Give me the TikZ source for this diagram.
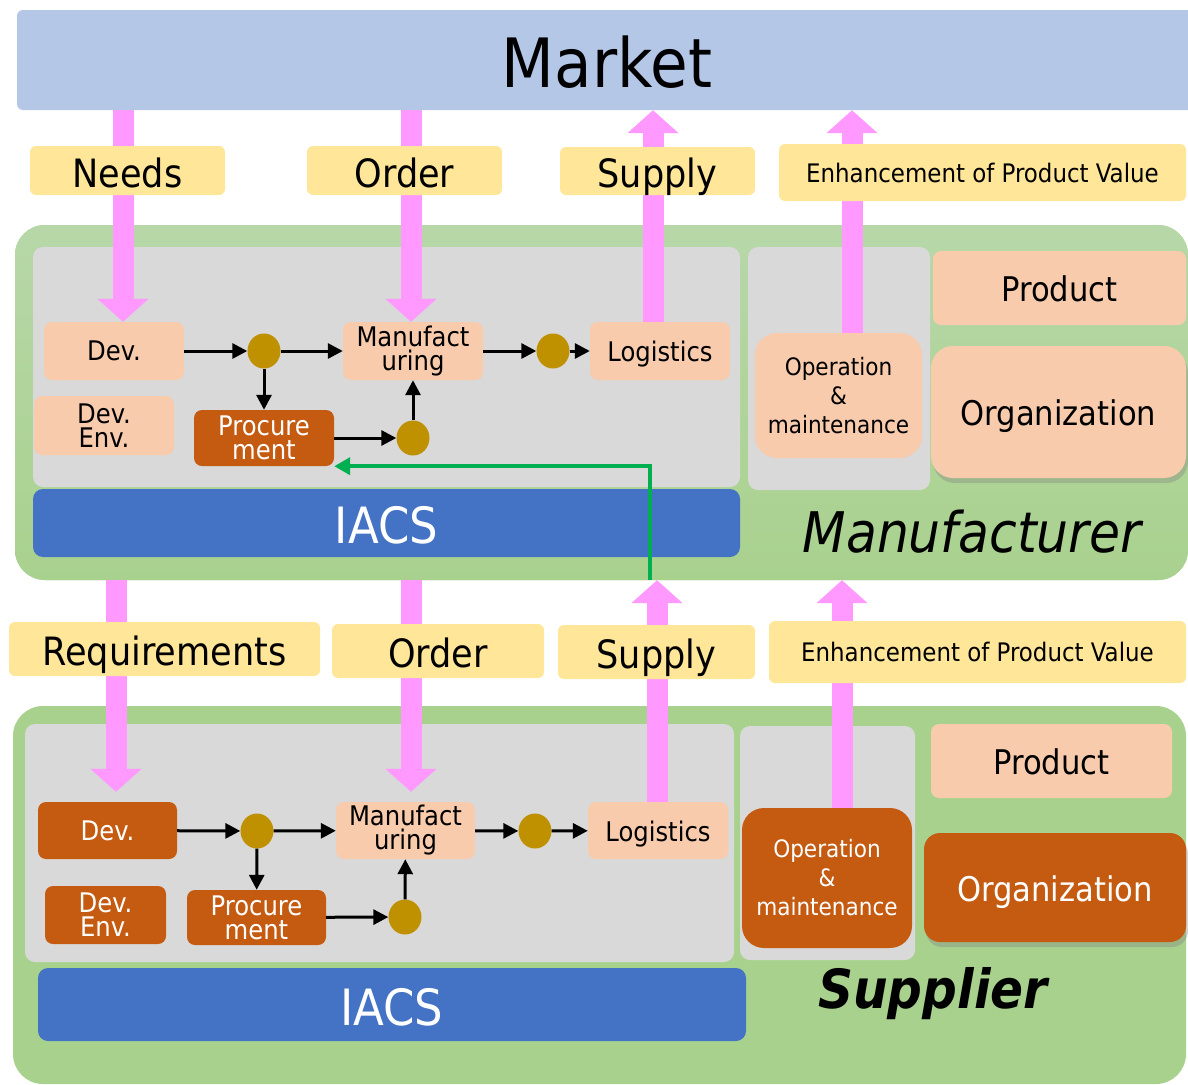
\documentclass[tikz,border=0pt]{standalone}
\usepackage{fontspec}
\setmainfont{DejaVu Sans Condensed}
\usepackage{xcolor}
\usepackage{tikz}
\usetikzlibrary{arrows.meta,shapes.geometric,shadows}

\definecolor{marketblue}{HTML}{B4C7E7}
\definecolor{tagyellow}{HTML}{FFE699}
\definecolor{flowpink}{HTML}{FF99FF}
\definecolor{groupgreen}{HTML}{A9D18E}
\definecolor{groupgreenlt}{HTML}{B7D7A8}
\definecolor{areagray}{HTML}{D9D9D9}
\definecolor{peach}{HTML}{F8CBAD}
\definecolor{rust}{HTML}{C55A11}
\definecolor{iacsblue}{HTML}{4472C4}
\definecolor{gold}{HTML}{BF9000}
\definecolor{linkgreen}{HTML}{00B050}

\pgfdeclarelayer{back}
\pgfdeclarelayer{flows}
\pgfsetlayers{back,flows,main}

\begin{document}
\begin{tikzpicture}[x=1pt, y=-1pt,
    sized/.style 2 args={minimum width=#1pt, minimum height=#2pt},
    plain/.style={inner sep=0pt, align=center},
    oneline/.style={text height=#1pt, text depth=0pt},
    greenbox/.style={plain, rounded corners=30pt, fill=groupgreen},
    grayarea/.style={plain, rounded corners=10pt, fill=areagray},
    peachbox/.style={plain, rounded corners=8pt, fill=peach,
        font=\fontsize{27}{24}\selectfont},
    rustbox/.style={peachbox, fill=rust, text=white},
    tagbox/.style={plain, oneline=33.5, rounded corners=6pt, fill=tagyellow,
        font=\fontsize{39}{40}\selectfont},
    valuetag/.style={tagbox, oneline=19.5, font=\fontsize{25.5}{26}\selectfont},
    bigbox/.style={oneline=27, font=\fontsize{34}{34}\selectfont},
    junction/.style={ellipse, fill=gold, inner sep=0pt, sized={33}{35}},
    iacsbar/.style={plain, oneline=41, rounded corners=10pt, fill=iacsblue,
        text=white, font=\fontsize{50}{50}\selectfont},
    flow/.style={line width=3pt, -{Triangle[width=15pt,length=15pt]}},
    bigflow/.style={line width=21pt, flowpink,
        -{Triangle[width=50pt,length=23pt]}},
    feedback/.style={line width=4pt, linkgreen,
        -{Triangle[width=17pt,length=16pt]}}]

    \useasboundingbox (0,0) rectangle (1188,1084);

    % Market
    \node[plain, oneline=55, rounded corners=6pt, fill=marketblue,
        sized={1180}{100}, font=\fontsize{68}{68}\selectfont]
        (market) at (607,60) {Market};

    % groups and work areas
    \begin{pgfonlayer}{back}
    \node[greenbox, sized={1173}{355}, top color=groupgreenlt,
        bottom color=groupgreen] (mfg) at (601.5,402.5) {};
    \node[greenbox, sized={1173}{378}] (sup) at (599.5,895) {};
    \node[grayarea, sized={707}{240}] (mfgA) at (386.5,367) {};
    \node[grayarea, sized={182}{243}] (mfgB) at (839,368.5) {};
    \node[grayarea, sized={709}{238}] (supA) at (379.5,843) {};
    \node[grayarea, sized={175}{234}] (supB) at (827.5,843) {};
    \end{pgfonlayer}

    % Manufacturer boxes
    \node[peachbox, oneline=19, sized={140}{58}] (mDev) at (114,351) {Dev.};
    \node[peachbox, sized={140}{59}] (mEnv) at (104,425.5) {Dev.\\Env.};
    \node[rustbox, sized={140}{56}] (mProc) at (264,438) {Procure\\ment};
    \node[peachbox, sized={140}{58}] (mMan) at (413,351) {Manufact\\uring};
    \node[peachbox, oneline=21, sized={140}{58}] (mLog) at (660,351) {Logistics};
    \node[peachbox, rounded corners=22pt, sized={167}{125},
        font=\fontsize{24}{29}\selectfont] (mOps) at (838.5,395.5)
        {Operation\\\&\\maintenance};
    \node[peachbox, bigbox, sized={253}{74}] (mProd) at (1059.5,288) {Product};
    \node[peachbox, bigbox, rounded corners=22pt, sized={255}{132},
        drop shadow={shadow xshift=2pt, shadow yshift=-5pt, opacity=0.35}]
        (mOrg) at (1058.5,412) {Organization};

    % Supplier boxes
    \node[rustbox, oneline=19, sized={139}{57}] (sDev) at (107.5,830.5) {Dev.};
    \node[rustbox, sized={121}{58}] (sEnv) at (105.5,915) {Dev.\\Env.};
    \node[rustbox, sized={139}{55}] (sProc) at (256.5,917.5) {Procure\\ment};
    \node[peachbox, sized={139}{57}] (sMan) at (405.5,830.5) {Manufact\\uring};
    \node[peachbox, oneline=21, sized={140}{57}] (sLog) at (658,830.5) {Logistics};
    \node[rustbox, rounded corners=22pt, sized={170}{140},
        font=\fontsize{24}{29}\selectfont] (sOps) at (827,878)
        {Operation\\\&\\maintenance};
    \node[peachbox, bigbox, sized={241}{74}] (sProd) at (1051.5,761) {Product};
    \node[rustbox, bigbox, rounded corners=16pt, sized={262}{109},
        drop shadow={shadow xshift=2pt, shadow yshift=-5pt, opacity=0.35}]
        (sOrg) at (1055,887.5) {Organization};

    % pink flows
    \begin{pgfonlayer}{flows}
    \draw[bigflow] (123,0 |- market.south) -- (123,0 |- mDev.north);
    \draw[bigflow] (411,0 |- market.south) -- (411,0 |- mMan.north);
    \draw[bigflow] (653,0 |- mLog.north) -- (653,0 |- market.south);
    \draw[bigflow] (852,0 |- mOps.north) -- (852,0 |- market.south);
    \draw[bigflow, shorten >=10pt] (116,0 |- mfg.south) -- (116,0 |- sDev.north);
    \draw[bigflow, shorten >=10pt] (411,0 |- mfg.south) -- (411,0 |- sMan.north);
    \draw[bigflow] (657,0 |- sLog.north) -- (657,0 |- mfg.south);
    \draw[bigflow] (842,0 |- sOps.north) -- (842,0 |- mfg.south);
    \end{pgfonlayer}

    % flow labels
    \node[tagbox, sized={195}{49}] (tNeeds) at (127.5,170.5) {Needs};
    \node[tagbox, sized={195}{49}] (tOrder) at (404.5,170.5) {Order};
    \node[tagbox, sized={195}{48}] (tSupply) at (657.5,171) {Supply};
    \node[valuetag, sized={407}{57}] (tValue) at (982.5,172.5)
        {Enhancement of Product Value};
    \node[tagbox, sized={311}{54}] (tReq) at (164.5,649) {Requirements};
    \node[tagbox, sized={212}{54}] (tOrderS) at (438,651) {Order};
    \node[tagbox, sized={197}{54}] (tSupplyS) at (656.5,652) {Supply};
    \node[valuetag, sized={417}{62}] (tValueS) at (977.5,652)
        {Enhancement of Product Value};

    % junctions
    \node[junction] (mJ1) at (264,351) {};
    \node[junction] (mJ2) at (413,438) {};
    \node[junction] (mJ3) at (553,351) {};
    \node[junction] (sJ1) at (257,831) {};
    \node[junction] (sJ2) at (405,917) {};
    \node[junction] (sJ3) at (535,831) {};

    % process arrows
    \draw[flow] (mDev) -- (mJ1);
    \draw[flow] (mJ1) -- (mMan);
    \draw[flow] (mJ1) -- (mProc);
    \draw[flow] (mProc) -- (mJ2);
    \draw[flow] (mJ2) -- (mMan);
    \draw[flow] (mMan) -- (mJ3);
    \draw[flow] (mJ3) -- (mLog);
    \draw[flow] (sDev) -- (sJ1);
    \draw[flow] (sJ1) -- (sMan);
    \draw[flow] (sJ1) -- (sProc);
    \draw[flow] (sProc) -- (sJ2);
    \draw[flow] (sJ2) -- (sMan);
    \draw[flow] (sMan) -- (sJ3);
    \draw[flow] (sJ3) -- (sLog);

    % IACS and names
    \node[iacsbar, sized={707}{68}] (mIACS) at (386.5,523) {IACS};
    \node[iacsbar, sized={708}{73}] (sIACS) at (392,1004.5) {IACS};
    \node[font=\fontsize{56}{56}\selectfont\itshape] (mName) at (972,532)
        {Manufacturer};
    \node[font=\fontsize{54}{54}\selectfont\bfseries\itshape] (sName)
        at (933,994) {Supplier};

    % supply link to procurement
    \draw[feedback] (650,0 |- mfg.south) |- (mProc.south east);
\end{tikzpicture}
\end{document}
